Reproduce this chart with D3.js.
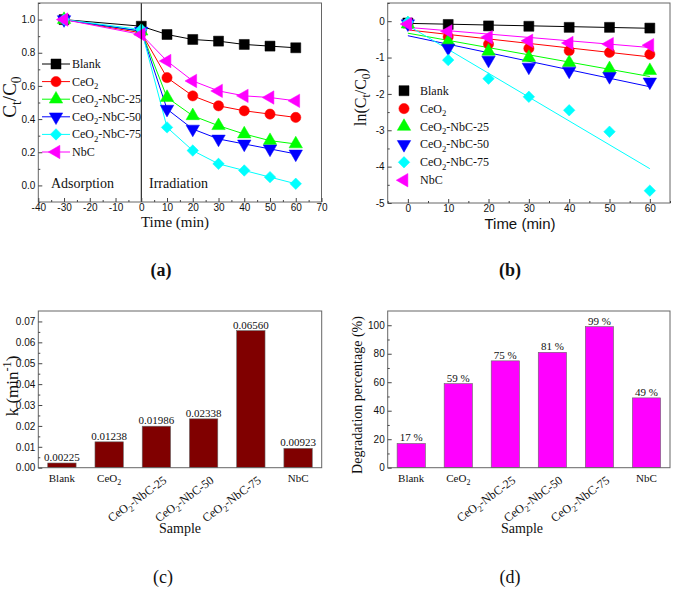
<!DOCTYPE html>
<html lang="en">
<head>
<meta charset="UTF-8">
<title>Degradation kinetics</title>
<script src="https://d3js.org/d3.v7.min.js"></script>
<style>
body { margin: 0; background: #fff; }
svg { display: block; }
.tick text { font-family: "Liberation Sans", Arial, sans-serif; fill: #111; }
.tick line { stroke: #444; }
.serif { font-family: "Liberation Serif", "Times New Roman", serif; fill: #111; }
</style>
</head>
<body>
<script>
// ---- data ----
const categories = ["Blank", "CeO_{2}", "CeO_{2}-NbC-25", "CeO_{2}-NbC-50", "CeO_{2}-NbC-75", "NbC"];
const colors = ["#000000", "#ff0000", "#00ff00", "#0000ff", "#00ffff", "#ff00ff"];

// (a) Ct/C0 vs time
const timeA = [-30, 0, 10, 20, 30, 40, 50, 60];
const ctBlank = [1.00, 0.96, 0.91, 0.88, 0.87, 0.85, 0.84, 0.83];
const ctCeO2  = [1.00, 0.92, 0.65, 0.54, 0.48, 0.45, 0.43, 0.41];
const ctNbC25 = [1.00, 0.93, 0.53, 0.42, 0.36, 0.31, 0.27, 0.25];
const ctNbC50 = [1.00, 0.93, 0.46, 0.34, 0.28, 0.25, 0.22, 0.19];
const ctNbC75 = [1.00, 0.94, 0.35, 0.21, 0.13, 0.09, 0.05, 0.01];
const ctNbC   = [1.00, 0.91, 0.75, 0.63, 0.57, 0.54, 0.53, 0.51];

// (b) ln(Ct/C0) vs time, with linear fits
const timeB = [0, 10, 20, 30, 40, 50, 60];
const lnBlank = [-0.05, -0.09, -0.13, -0.14, -0.17, -0.17, -0.19];
const lnCeO2  = [-0.06, -0.43, -0.63, -0.75, -0.81, -0.86, -0.91];
const lnNbC25 = [-0.08, -0.56, -0.83, -1.00, -1.14, -1.31, -1.36];
const lnNbC50 = [-0.07, -0.74, -1.07, -1.26, -1.37, -1.52, -1.67];
const lnNbC75 = [-0.02, -1.07, -1.58, -2.08, -2.45, -3.04, -4.66];
const lnNbC   = [-0.08, -0.28, -0.44, -0.54, -0.60, -0.63, -0.66];
const fitIntercept = [-0.06, -0.24, -0.33, -0.40, -0.12, -0.17];
const fitRange = [0, 60];

// (c) rate constants, (d) degradation percentage
const kValues = [0.00225, 0.01238, 0.01986, 0.02338, 0.06560, 0.00923];
const degradation = [17, 59, 75, 81, 99, 49];

const seriesA = [ctBlank, ctCeO2, ctNbC25, ctNbC50, ctNbC75, ctNbC];
const seriesB = [lnBlank, lnCeO2, lnNbC25, lnNbC50, lnNbC75, lnNbC];

// ---- helpers ----
const width = 673, height = 589;
const svg = d3.select("body").append("svg").attr("width", width).attr("height", height);
svg.append("rect").attr("width", width).attr("height", height).attr("fill", "#fff");

// text with _{sub} and ^{sup}
function rich(sel, str, fs) {
    let cur = 0;
    str.split(/(_\{[^}]*\}|\^\{[^}]*\})/).filter(p => p).forEach(p => {
        let target = 0, t = p, small = false;
        if (p[0] === "_") { target = fs * 0.28; t = p.slice(2, -1); small = true; }
        if (p[0] === "^") { target = -fs * 0.42; t = p.slice(2, -1); small = true; }
        const ts = sel.append("tspan").attr("dy", target - cur).text(t);
        if (small) ts.attr("font-size", fs * 0.72);
        cur = target;
    });
    return sel;
}

function serifText(x, y, str, fs, opts = {}) {
    const t = svg.append("text").attr("class", "serif")
        .attr("font-size", fs)
        .attr("text-anchor", opts.anchor || "start")
        .attr("font-weight", opts.bold ? "bold" : null)
        .attr("transform", `translate(${x},${y})` + (opts.rotate ? ` rotate(${opts.rotate})` : ""));
    return rich(t, str, fs);
}

function frame(x, y) {
    const [x0, x1] = x.range ? d3.extent(x.range()) : x;
    const [y0, y1] = d3.extent(y.range());
    svg.append("rect").attr("x", x0).attr("y", y0)
        .attr("width", x1 - x0).attr("height", y1 - y0)
        .attr("fill", "none").attr("stroke", "#666").attr("stroke-width", 1);
}

function leftAxis(y, xPos, major, minor, fmt, fs) {
    const g = svg.append("g").attr("transform", `translate(${xPos},0)`)
        .attr("font-size", fs)
        .call(d3.axisLeft(y).tickValues(major).tickSize(-4).tickPadding(3).tickFormat(fmt));
    g.select(".domain").remove();
    if (minor) {
        svg.append("g").attr("transform", `translate(${xPos},0)`)
            .call(d3.axisLeft(y).tickValues(minor).tickSize(-2).tickFormat(""))
            .select(".domain").remove();
    }
}

function bottomAxis(x, yPos, major, minor, fmt, fs) {
    const g = svg.append("g").attr("transform", `translate(0,${yPos})`)
        .attr("font-size", fs)
        .call(d3.axisBottom(x).tickValues(major).tickSize(-4).tickPadding(2).tickFormat(fmt));
    g.select(".domain").remove();
    if (minor) {
        svg.append("g").attr("transform", `translate(0,${yPos})`)
            .call(d3.axisBottom(x).tickValues(minor).tickSize(-2).tickFormat(""))
            .select(".domain").remove();
    }
}

const symTypes = [d3.symbolSquare, d3.symbolCircle, d3.symbolTriangle, d3.symbolTriangle, d3.symbolSquare, d3.symbolTriangle];
const symRotate = [0, 0, 0, 180, 45, -90];
const symSize = [100, 82, 78, 78, 66, 78];

function marker(g, i, cx, cy) {
    g.append("path")
        .attr("d", d3.symbol().type(symTypes[i]).size(symSize[i])())
        .attr("transform", `translate(${cx},${cy}) rotate(${symRotate[i]})`)
        .attr("fill", colors[i]).attr("stroke", colors[i]).attr("stroke-width", 0.5);
}

// ---- (a) ----
const xA = d3.scaleLinear().domain([-40, 70]).range([38.3, 321.5]);
const yA = d3.scaleLinear().domain([-0.1, 1.1]).range([202, 3]);

const gA = svg.append("g");
svg.append("line").attr("x1", xA(0)).attr("x2", xA(0)).attr("y1", yA(1.1)).attr("y2", yA(-0.1))
    .attr("stroke", "#000").attr("stroke-width", 1);

seriesA.forEach((s, i) => {
    const line = d3.line().x((d, j) => xA(timeA[j])).y(d => yA(d));
    gA.append("path").attr("d", line(s)).attr("fill", "none")
        .attr("stroke", colors[i]).attr("stroke-width", 1);
});
seriesA.forEach((s, i) => s.forEach((d, j) => marker(gA, i, xA(timeA[j]), yA(d))));

frame(xA, yA);
leftAxis(yA, xA(-40), d3.range(0, 1.01, 0.2), d3.range(-0.1, 1.1, 0.2), d3.format(".1f"), 12);
bottomAxis(xA, yA(-0.1), d3.range(-40, 71, 10), d3.range(-35, 70, 10), d => String(d), 12);

// legend (a)
categories.forEach((c, i) => {
    const ly = 64 + i * 17.6;
    svg.append("line").attr("x1", 42).attr("x2", 70).attr("y1", ly).attr("y2", ly)
        .attr("stroke", colors[i]).attr("stroke-width", 1);
    marker(svg, i, 56, ly);
    serifText(72, ly + 4, c, 12);
});

serifText(51, 188, "Adsorption", 14);
serifText(149, 188, "Irradiation", 14);
serifText(16, 97, "C_{t}/C_{0}", 19, { anchor: "middle", rotate: -90 });
serifText(175, 227, "Time (min)", 15, { anchor: "middle" });
serifText(161, 276, "(a)", 18, { anchor: "middle", bold: true });

// ---- (b) ----
const xB = d3.scaleLinear().domain([-5, 65]).range([387.7, 670]);
const yB = d3.scaleLinear().domain([-5, 0.5]).range([203, 3]);
const gB = svg.append("g");

seriesB.forEach((s, i) => {
    gB.append("line")
        .attr("x1", xB(fitRange[0])).attr("y1", yB(fitIntercept[i] - kValues[i] * fitRange[0]))
        .attr("x2", xB(fitRange[1])).attr("y2", yB(fitIntercept[i] - kValues[i] * fitRange[1]))
        .attr("stroke", colors[i]).attr("stroke-width", 1);
});
seriesB.forEach((s, i) => s.forEach((d, j) => marker(gB, i, xB(timeB[j]), yB(d))));

frame(xB, yB);
leftAxis(yB, xB(-5), d3.range(-5, 0.1, 1), d3.range(-4.5, 0.6, 1), d => String(d), 12);
bottomAxis(xB, yB(-5), d3.range(0, 61, 10), d3.range(-5, 66, 10), d => String(d), 12);

categories.forEach((c, i) => {
    const ly = 90.7 + i * 17.9;
    marker(svg, i, 404, ly);
    serifText(420, ly + 4, c, 12);
});

serifText(366, 97, "ln(C_{t}/C_{0})", 16, { anchor: "middle", rotate: -90 });
svg.append("text").attr("x", 520).attr("y", 229).attr("text-anchor", "middle")
    .attr("font-family", "Liberation Sans, Arial, sans-serif").attr("font-size", 15)
    .attr("fill", "#111").text("Time (min)");
serifText(510, 276, "(b)", 18, { anchor: "middle", bold: true });

// ---- bar panels ----
function barPanel(values, xRange, yScale, fill, fmt, tickVals, minorVals, tickFmt) {
    const x = d3.scaleBand().domain(categories).range(xRange).paddingInner(0.4).paddingOuter(0.2);
    svg.append("g").selectAll("rect").data(values).join("rect")
        .attr("x", (d, i) => x(categories[i]))
        .attr("y", d => yScale(d))
        .attr("width", x.bandwidth())
        .attr("height", d => yScale(0) - yScale(d))
        .attr("fill", fill).attr("stroke", "#666").attr("stroke-width", 0.6);
    values.forEach((d, i) => {
        serifText(x(categories[i]) + x.bandwidth() / 2, yScale(d) - 2, fmt(d), 11, { anchor: "middle" });
    });
    frame(xRange, yScale);
    leftAxis(yScale, xRange[0], tickVals, minorVals, tickFmt, 11);
    categories.forEach((c, i) => {
        const cx = x(c) + x.bandwidth() / 2;
        if (c.includes("-")) {
            serifText(cx + 11, 482, c, 12, { anchor: "end", rotate: -36 });
        } else {
            serifText(cx, 481.7, c, 11, { anchor: "middle" });
        }
    });
}

const yC = d3.scaleLinear().domain([0, 0.075]).range([467.7, 311]);
barPanel(kValues, [38.3, 321.7], yC, "#800000", d3.format(".5f"),
    d3.range(0, 0.0701, 0.01), d3.range(0.005, 0.075, 0.01), d3.format(".2f"));
serifText(18, 386, "k (min^{-1})", 17, { anchor: "middle", rotate: -90 });
serifText(180, 533, "Sample", 14, { anchor: "middle" });
serifText(163, 583, "(c)", 18, { anchor: "middle" });

const yD = d3.scaleLinear().domain([0, 110]).range([467.7, 311]);
barPanel(degradation, [387.7, 670], yD, "#ff00ff", d => d + " %",
    d3.range(0, 101, 20), d3.range(10, 110, 20), d => String(d));
serifText(362, 395, "Degradation percentage (%)", 14, { anchor: "middle", rotate: -90 });
serifText(522, 533, "Sample", 14, { anchor: "middle" });
serifText(510, 583, "(d)", 18, { anchor: "middle" });
</script>
</body>
</html>
